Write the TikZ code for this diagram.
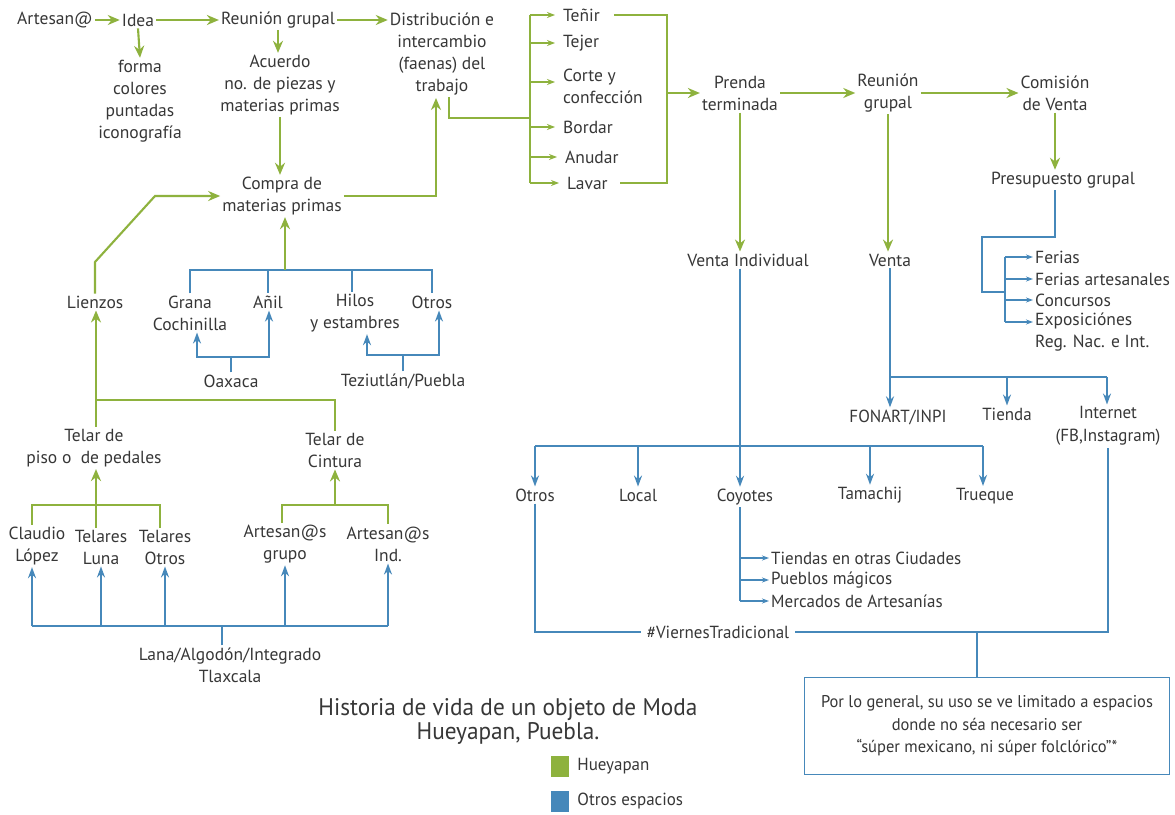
\documentclass[tikz,border=0pt]{standalone}
\usepackage{fontspec}
\setmainfont{PT Sans}
\newfontfamily\condfont[FakeStretch=0.97]{PT Sans}
\usetikzlibrary{arrows.meta,calc}
\definecolor{hgreen}{RGB}{142,178,62}
\definecolor{oblue}{RGB}{70,136,186}
\definecolor{ink}{RGB}{55,55,55}
\begin{document}
\begin{tikzpicture}[x=1pt,y=-1pt,
  txt/.style={text=ink, font=\fontsize{17.5}{22}\selectfont, align=center, inner sep=2pt},
  ctxt/.style={text=ink, font=\condfont\fontsize{17.5}{22.5}\selectfont, align=center, inner sep=2pt},
  gl/.style={draw=hgreen, line width=2.1pt},
  gla/.style={gl, -{Stealth[length=12pt,width=10pt]}},
  gls/.style={gl, -{Stealth[length=8pt,width=6pt]}},
  bl/.style={draw=oblue, line width=1.9pt},
  bla/.style={bl, -{Stealth[length=11pt,width=8pt]}},
  bls/.style={bl, -{Stealth[length=7pt,width=5pt]}},
  bba/.style={bl, {Stealth[length=11pt,width=8pt]}-{Stealth[length=11pt,width=8pt]}}
]
\useasboundingbox[fill=white] (0,0) rectangle (1175,814);

% ---------- top row (Hueyapan) ----------
\node[txt] (art) at (55,20) {Artesan@};
\node[txt] (idea) at (138,20) {Idea};
\node[txt] (reu1) at (278,20) {Reunión grupal};
\node[txt] (dist) at (442,54) {Distribución e\\intercambio\\(faenas) del\\trabajo};
\node[txt] (forma) at (140,101) {forma\\colores\\puntadas\\iconografía};
\node[txt] (acuerdo) at (280,85) {Acuerdo\\no. de piezas y\\materias primas};
\node[txt] (compra) at (282,196) {Compra de\\materias primas};

\draw[gla] (art.east) -- (idea.west);
\draw[gla] (idea.east) -- (reu1.west);
\draw[gla] (reu1.east) -- (reu1.east -| dist.west);
\draw[gla] (idea.south) -- (forma.north);
\draw[gla] (reu1.south) -- (reu1.south |- acuerdo.north);
\draw[gla] (acuerdo.south) -- (acuerdo.south |- compra.north);
\coordinate (cpUp) at (436,98);
\draw[gla] (compra.east) -| (cpUp);

% tasks
\node[txt,anchor=west] (tenir) at (561,15) {Teñir};
\node[txt,anchor=west] (tejer) at (561,43) {Tejer};
\node[txt,anchor=west,align=left] (corte) at (561,86) {Corte y\\confección};
\node[txt,anchor=west] (bordar) at (561,127) {Bordar};
\node[txt,anchor=west] (anudar) at (563,157) {Anudar};
\node[txt,anchor=west] (lavar) at (565,183) {Lavar};

\coordinate (lbT) at (530,15);
\coordinate (lbB) at (530,183);
\coordinate (lbJ) at (530,118);
\coordinate (dsOut) at (449,97);
\draw[gl] (dsOut) |- (lbJ);
\draw[gl] (lbT) -- (lbB);
\foreach \n in {tenir,tejer,bordar,anudar,lavar}
  \draw[gls] (lbT |- \n.west) -- ($(\n.west)+(-6,0)$);
\draw[gls] ($(lbT |- corte.west)+(0,-4)$) -- ($(corte.west)+(-6,-4)$);

\coordinate (rbT) at (667,15);
\coordinate (rbB) at (667,183);
\draw[gl] ($(tenir.east)+(12,0)$) -- (rbT) -- (rbB) -- ($(lavar.east)+(10,0)$);

\node[txt] (prenda) at (740,93) {Prenda\\terminada};
\node[txt] (reu2) at (888,93) {Reunión\\grupal};
\node[txt] (comision) at (1055,93) {Comisión\\de Venta};
\node[txt] (presup) at (1063,180) {Presupuesto grupal};
\node[txt] (ventaInd) at (748,260) {Venta Individual};
\node[txt] (venta) at (890,260) {Venta};

\draw[gla] (rbT |- prenda.west) -- (prenda.west);
\draw[gla] (prenda.east) -- (reu2.west);
\draw[gla] (reu2.east) -- (comision.west);
\draw[gla] (comision.south) -- (comision.south |- presup.north);
\draw[gla] (prenda.south) -- (prenda.south |- ventaInd.north);
\draw[gla] (reu2.south) -- (reu2.south |- venta.north);

% ---------- budget channels ----------
\node[txt,anchor=west] (ferias) at (1033,257) {Ferias};
\node[txt,anchor=west] (feriasArt) at (1033,279) {Ferias artesanales};
\node[txt,anchor=west] (concursos) at (1033,300) {Concursos};
\node[txt,anchor=west,align=left] (expos) at (1033,332) {Exposiciónes\\Reg. Nac. e Int.};
\coordinate (pA) at (982,237);
\coordinate (pB) at (1005,292);
\coordinate (fbT) at (1005,257);
\coordinate (fbB) at (1005,322);
\draw[bl] (presup.south -| comision.south) |- (pA) |- (pB);
\draw[bl] (fbT) -- (fbB);
\foreach \n in {ferias,feriasArt,concursos}
  \draw[bls] (fbT |- \n.west) -- (\n.west);
\draw[bls] (fbB) -- ($(expos.west)+(0,-10)$);

% ---------- group sales ----------
\node[ctxt] (fonart) at (898,417) {FONART/INPI};
\node[ctxt] (tienda) at (1007,414) {Tienda};
\node[ctxt] (internet) at (1108,426) {Internet\\(FB,Instagram)};
\coordinate (vJ) at (890,377);
\coordinate (vR) at (1107,377);
\draw[bla] (venta.south) -- (venta.south |- fonart.north);
\draw[bl] (vJ) -- (vR);
\draw[bla] (tienda.north |- vJ) -- (tienda.north);
\draw[bla] (vR) -- (vR |- internet.north);

% ---------- individual sales ----------
\node[ctxt] (otrosV) at (535,495) {Otros};
\node[ctxt] (local) at (638,495) {Local};
\node[ctxt] (coyotes) at (745,497) {Coyotes};
\node[ctxt] (tamachij) at (870,495) {Tamachij};
\node[ctxt] (trueque) at (985,496) {Trueque};
\coordinate (viX) at (740,446);
\coordinate (obL) at (535,446);
\coordinate (obR) at (983,446);
\draw[bla] (ventaInd.south -| viX) -- (coyotes.north -| viX);
\draw[bl] (obL) -- (obR);
\draw[bla] (obL) -- (otrosV.north);
\draw[bla] (local.north |- obL) -- (local.north);
\draw[bla] (tamachij.north |- obL) -- (tamachij.north);
\draw[bla] (obR) -- (obR |- trueque.north);

\node[ctxt,anchor=west] (tiendas) at (769,558) {Tiendas en otras Ciudades};
\node[ctxt,anchor=west] (pueblos) at (769,580) {Pueblos mágicos};
\node[ctxt,anchor=west] (mercados) at (769,601) {Mercados de Artesanías};
\draw[bl] (coyotes.south -| viX) -- (mercados.west -| viX);
\foreach \n in {tiendas,pueblos,mercados}
  \draw[bls] (viX |- \n.west) -- (\n.west);

\node[ctxt,inner sep=6pt] (viernes) at (718,632) {\#ViernesTradicional};
\draw[bl] (otrosV.south) |- (viernes.west);
\draw[bl] (viernes.east) -| (internet.south);

\node[ctxt,font=\condfont\fontsize{17}{22.5}\selectfont,draw=oblue,line width=1.4pt,minimum width=365pt,minimum height=97pt] (box) at (987,726)
  {Por lo general, su uso se ve limitado a espacios\\donde no séa necesario ser\\“súper mexicano, ni súper folclórico”*};
\coordinate (vbJ) at (977,632);
\draw[bl] (vbJ) -- (vbJ |- box.north);

% ---------- raw materials ----------
\node[txt] (lienzos) at (95,302) {Lienzos};
\coordinate (lzA) at (95,262);
\coordinate (lzB) at (155,196);
\draw[gla] (lienzos.north) -- (lzA) -- (lzB) -- (compra.west);

\node[txt] (grana) at (190,313) {Grana\\Cochinilla};
\node[txt] (anil) at (268,302) {Añil};
\node[txt] (hilos) at (355,313) {Hilos\\y estambres};
\node[txt] (otrosM) at (432,302) {Otros};
\coordinate (mbL) at (190,270);
\coordinate (mbR) at (432,270);
\coordinate (mbC) at (285,270);
\coordinate (mbH) at (352,270);
\draw[bl] (grana.north) -- (mbL) -- (mbR) -- (otrosM.north);
\draw[bl] (anil.north |- mbL) -- (anil.north);
\draw[bl] (mbH) -- (mbH |- hilos.north);
\draw[gla] (mbC) -- (compra.south -| mbC);

\node[txt] (oaxaca) at (231,381) {Oaxaca};
\coordinate (oxL) at (197,357);
\coordinate (oxR) at (269,357);
\draw[bl] (oaxaca.north) -- (oaxaca.north |- oxL);
\draw[bba] (oxL |- grana.south) -- (oxL) -- (oxR) -- (oxR |- anil.south);

\node[txt] (tez) at (403,381) {Teziutlán/Puebla};
\coordinate (tzL) at (367,355);
\coordinate (tzR) at (439,355);
\draw[bl] (tez.north) -- (tez.north |- tzL);
\draw[bba] (tzL |- hilos.south) -- (tzL) -- (tzR) -- (tzR |- otrosM.south);

% ---------- looms ----------
\node[txt] (telarPiso) at (94,448) {Telar de\\piso o\ \ de pedales};
\node[txt] (telarCint) at (335,450) {Telar de\\Cintura};
\coordinate (tjL) at (96,400);
\coordinate (tjR) at (335,400);
\draw[gla] (telarPiso.north -| tjL) -- (lienzos.south -| tjL);
\draw[gl] (telarCint.north) -- (tjR) -- (tjL);

\node[txt] (claudio) at (37,546) {Claudio\\López};
\node[txt] (luna) at (101,547) {Telares\\Luna};
\node[txt] (otrosT) at (165,547) {Telares\\Otros};
\node[txt] (grupo) at (285,544) {Artesan@s\\grupo};
\node[txt] (ind) at (388,544) {Artesan@s\\Ind.};

\coordinate (wbL) at (32,505);
\coordinate (wbR) at (160,505);
\coordinate (wbC) at (96,505);
\draw[gl] (claudio.north -| wbL) -- (wbL) -- (wbR) -- (otrosT.north -| wbR);
\draw[gla] (luna.north -| wbC) -- (telarPiso.south -| wbC);
\coordinate (abL) at (282,505);
\coordinate (abR) at (388,505);
\coordinate (abC) at (335,505);
\draw[gl] (grupo.north -| abL) -- (abL) -- (abR) -- (ind.north -| abR);
\draw[gla] (abC) -- (telarCint.south -| abC);

\node[txt] (lana) at (230,665) {Lana/Algodón/Integrado\\Tlaxcala};
\coordinate (lnL) at (32,626);
\coordinate (lnR) at (388,626);
\coordinate (lnC) at (222,626);
\draw[bl] (lnC |- lana.north) -- (lnC);
\draw[bl] (lnL) -- (lnR);
\draw[bla] (lnL) -- (claudio.south -| lnL);
\draw[bla] (luna.south |- lnL) -- (luna.south);
\draw[bla] (otrosT.south |- lnL) -- (otrosT.south);
\draw[bla] (grupo.south |- lnL) -- (grupo.south);
\draw[bla] (lnR) -- (ind.south -| lnR);

% ---------- title and legend ----------
\node[ctxt, font=\condfont\fontsize{24}{24}\selectfont] (title) at (508,721)
  {Historia de vida de un objeto de Moda\\Hueyapan, Puebla.};
\node[fill=hgreen, minimum width=18pt, minimum height=21pt, inner sep=0pt] (lgG) at (560,766) {};
\node[fill=oblue, minimum width=18pt, minimum height=21pt, inner sep=0pt] (lgB) at (560,801) {};
\node[ctxt, anchor=west] (lgGt) at ($(lgG.east)+(6,0)$) {Hueyapan};
\node[ctxt, anchor=west] (lgBt) at ($(lgB.east)+(6,0)$) {Otros espacios};
\end{tikzpicture}
\end{document}
